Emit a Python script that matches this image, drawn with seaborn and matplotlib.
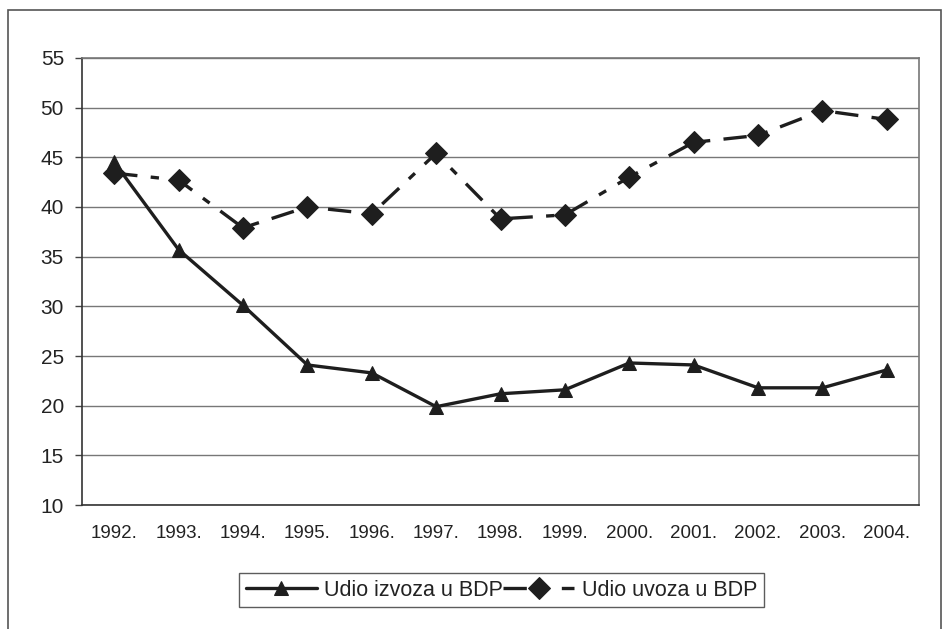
import matplotlib
matplotlib.use('Agg')

import pandas as pd
import matplotlib.pyplot as plt
import seaborn as sns
from matplotlib.patches import Rectangle

# podaci ocitani sa slike (% BDP-a)
godine = ["1992.", "1993.", "1994.", "1995.", "1996.", "1997.", "1998.",
          "1999.", "2000.", "2001.", "2002.", "2003.", "2004."]
izvoz = [44.5, 35.7, 30.1, 24.1, 23.3, 19.9, 21.2, 21.6, 24.3, 24.1, 21.8, 21.8, 23.6]
uvoz = [43.4, 42.7, 37.9, 40.0, 39.3, 45.4, 38.8, 39.2, 43.0, 46.5, 47.2, 49.7, 48.8]
y_ticks = [10, 15, 20, 25, 30, 35, 40, 45, 50, 55]

df = pd.DataFrame({"godina": godine, "izvoz": izvoz, "uvoz": uvoz})

sns.set_style("white")
plt.rcParams['font.family'] = ['Liberation Sans', 'DejaVu Sans']

fig = plt.figure(figsize=(9.46, 6.29), dpi=100)
ax = fig.add_axes([0.0867, 0.197, 0.8848, 0.711])

boja = "#1e1e1e"
sns.lineplot(data=df, x="godina", y="izvoz", ax=ax, color=boja, lw=2.4,
             marker="^", markersize=10.5, markeredgecolor=boja, sort=False,
             label="Udio izvoza u BDP")
sns.lineplot(data=df, x="godina", y="uvoz", ax=ax, color=boja, lw=2.4,
             marker="D", markersize=11, markeredgecolor=boja, sort=False,
             dashes=False, label="Udio uvoza u BDP")
ax.lines[1].set_dashes([7, 4, 2.5, 4])

ax.set_xlim(-0.5, len(godine) - 0.5)
ax.set_ylim(10, 55)
ax.set_yticks(y_ticks)
ax.grid(axis='y', color="#777777", lw=1.0)
ax.set_axisbelow(True)
ax.set_xlabel("")
ax.set_ylabel("")

# kvacice izmedju kategorija
ax.set_xticks([i + 0.5 for i in range(-1, len(godine))], minor=True)
ax.tick_params(axis='x', which='minor', length=5, width=1, color="#444444", direction='out')
ax.tick_params(axis='x', which='major', length=0, pad=14, labelsize=13.5, labelcolor="#222222")
ax.tick_params(axis='y', length=5, width=1, color="#444444", direction='out', labelsize=15,
               labelcolor="#222222", left=True, pad=8)

for s in ax.spines.values():
    s.set_color("#777777")
    s.set_linewidth(1.2)
ax.spines['bottom'].set_color("#333333")
ax.spines['left'].set_color("#333333")

leg = ax.legend(loc='upper center', bbox_to_anchor=(0.501, -0.152), ncol=2, frameon=True,
                fancybox=False, fontsize=15.5, handlelength=3.3, columnspacing=0.0,
                handletextpad=0.35, borderpad=0.3, borderaxespad=0)
leg.get_frame().set_edgecolor("#333333")
leg.get_frame().set_linewidth(1.0)
for t in leg.get_texts():
    t.set_color("#222222")

# okvir skenirane slike
fig.patches.append(Rectangle((8 / 946, -0.02), 933 / 946, 1 - 10 / 629 + 0.02,
                             transform=fig.transFigure, fill=False, edgecolor="#555555", lw=1.2))

fig.savefig("out.png", dpi=100)
